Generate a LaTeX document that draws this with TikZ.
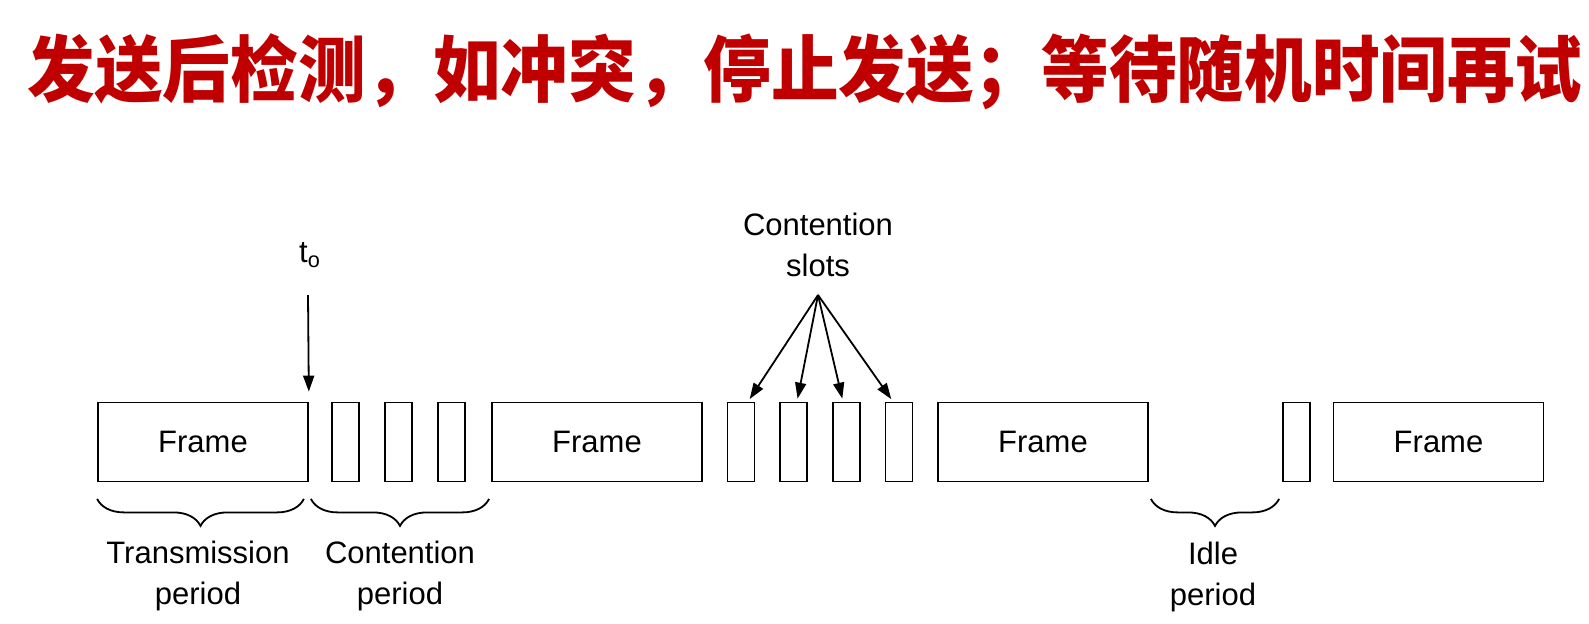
\documentclass[tikz,border=0pt]{standalone}
\usepackage{fontspec}
\setmainfont{Liberation Sans}
\newfontfamily\cjk{Noto Sans CJK SC}
\usetikzlibrary{arrows.meta,decorations.pathreplacing}
\definecolor{titlered}{RGB}{192,0,0}

\begin{document}
\begin{tikzpicture}[x=0.5pt, y=-0.5pt,
      frame/.style={draw, line width=0.9pt, minimum width=105pt,
                    minimum height=39.5pt, inner sep=0pt,
                    font=\fontsize{15.5}{18}\selectfont},
      slot/.style={draw, line width=0.9pt, minimum width=13.5pt,
                   minimum height=39.5pt, inner sep=0pt},
      lbl/.style={align=center, inner sep=0pt,
                  font=\fontsize{15.5}{20.5}\selectfont},
      arr/.style={-{Triangle[length=8pt,width=5.5pt]}, line width=0.9pt},
      brc/.style={decorate, decoration={brace, mirror, amplitude=13.5pt},
                  line width=0.9pt}
    ]
      \useasboundingbox (0,0) rectangle (1589,623);
      \node[font=\cjk\bfseries\fontsize{33.8}{36}\selectfont, text=titlered,
            inner sep=0pt]
        (title) at (805,72)
        {\scalebox{1}[1.07]{发送后检测，如冲突，停止发送；等待随机时间再试}};

      \node[frame] (f1) at (203,442)    {Frame};
      \node[frame] (f2) at (597,442)    {Frame};
      \node[frame] (f3) at (1043,442)   {Frame};
      \node[frame] (f4) at (1438.5,442) {Frame};
      \foreach \i/\x in {1/345.5, 2/398.5, 3/451.5, 4/741, 5/793.5,
                         6/846.5, 7/899, 8/1296.5}
        \node[slot] (s\i) at (\x,442) {};

      % t_o marker
      \node[lbl] (t0) at (310,255) {t\textsubscript{o}};
      \coordinate (t0top) at (308,295);
      \draw[arr, shorten >=5pt] (t0top) -- (f1.north east);

      % contention slots
      \node[lbl] (cs) at (818,245) {Contention\\slots};
      \coordinate (cs0) at (818,295);
      \draw[arr, shorten >=1.5pt] (cs0) -- ([xshift=3.5pt]s4.north);
      \draw[arr, shorten >=1.5pt] (cs0) -- ([xshift=1.75pt]s5.north);
      \draw[arr, shorten >=1.5pt] (cs0) -- ([xshift=-1.75pt]s6.north);
      \draw[arr, shorten >=1.5pt] (cs0) -- ([xshift=-3pt]s7.north);

      % periods
      \draw[brc] ([yshift=-8.25pt]f1.south west)
              -- ([xshift=-2.5pt,yshift=-8.25pt]f1.south east);
      \draw[brc] ([xshift=1pt,yshift=-8.25pt]f1.south east)
              -- ([xshift=-1pt,yshift=-8.25pt]f2.south west);
      \draw[brc] ([xshift=1pt,yshift=-8.25pt]f3.south east)
              -- ([xshift=-1.5pt,yshift=-8.25pt]s8.south west);
      \node[lbl] (tp) at (198,576)  {Transmission\\period};
      \node[lbl] (cp) at (400,576)  {Contention\\period};
      \node[lbl] (ip) at (1213,577) {Idle\\period};
    \end{tikzpicture}
\end{document}
